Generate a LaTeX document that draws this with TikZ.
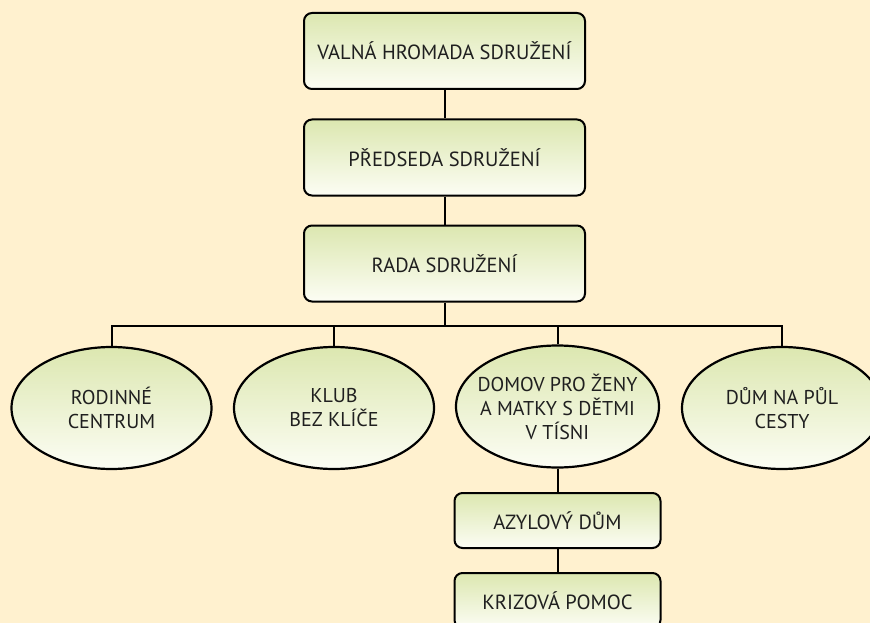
\documentclass[tikz,border=0pt]{standalone}
\usepackage{fontspec}
\setmainfont{PT Sans}
\usetikzlibrary{shapes.geometric}
\definecolor{bgcream}{RGB}{255,241,207}
\definecolor{boxtop}{RGB}{220,231,176}
\definecolor{boxbot}{RGB}{252,253,244}

\begin{document}
\begin{tikzpicture}[x=1pt, y=-1pt,
  orgbox/.style={draw=black, line width=2pt, rounded corners=8pt, top color=boxtop, bottom color=boxbot,
    minimum width=281pt, minimum height=76pt, inner sep=0pt, font=\fontsize{20.5}{24}\selectfont, text=black!88},
  subbox/.style={orgbox, minimum width=206pt, minimum height=55pt},
  unit/.style={ellipse, draw=black, line width=2.2pt, top color=boxtop, bottom color=boxbot,
    minimum width=200pt, minimum height=122pt, inner xsep=-16pt, inner ysep=0pt, align=center,
    font=\fontsize{20}{24}\selectfont, text=black!88},
  link/.style={line width=2pt},
]
  % Frame
  \useasboundingbox (0,0) rectangle (870,623);
  \clip (0,0) rectangle (870,623);
  \fill[bgcream] (0,0) rectangle (870,623);

  % Management
  \node[orgbox] (valna) at (444.5,51) {VALNÁ HROMADA SDRUŽENÍ};
  \node[orgbox] (predseda) at (444.5,157.5) {PŘEDSEDA SDRUŽENÍ};
  \node[orgbox] (rada) at (444.5,263.5) {RADA SDRUŽENÍ};

  % Units
  \node[unit] (rodinne) at (111.5,408) {RODINNÉ\\CENTRUM};
  \node[unit] (klub) at (334,408) {KLUB\\BEZ KLÍČE};
  \node[unit, minimum width=203pt] (domov) at (557.5,406.5) {DOMOV PRO ŽENY\\A MATKY S DĚTMI\\V TÍSNI};
  \node[unit] (dum) at (782,408) {DŮM NA PŮL\\CESTY};

  % Services of the shelter
  \node[subbox] (azyl) at (557.5,520.5) {AZYLOVÝ DŮM};
  \node[subbox] (krize) at (557.5,600.5) {KRIZOVÁ POMOC};

  % Connectors
  \coordinate (bus) at (444.5,326);
  \draw[link] (valna) -- (predseda);
  \draw[link] (predseda) -- (rada);
  \draw[link] (rada) -- (bus);
  \foreach \u in {rodinne, klub, domov, dum} {
    \draw[link] (bus) -| (\u.north);
  }
  \draw[link] (domov) -- (azyl);
  \draw[link] (azyl) -- (krize);

\end{tikzpicture}
\end{document}
